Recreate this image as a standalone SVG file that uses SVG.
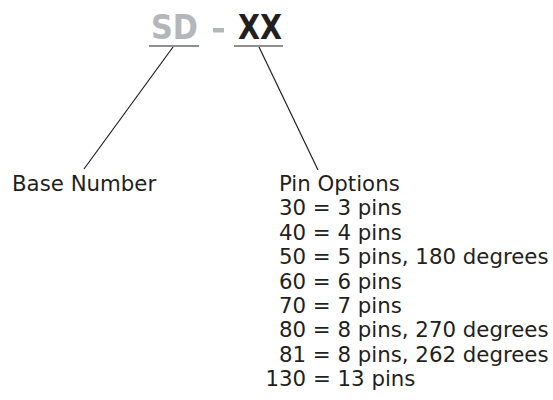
<svg xmlns="http://www.w3.org/2000/svg" width="553" height="400" viewBox="0 0 553 400">
<style>
.lbl{font-family:"DejaVu Sans","Verdana",sans-serif;font-size:21.3px;fill:#231f20}
.ttl{font-family:"DejaVu Sans Condensed","DejaVu Sans",sans-serif;font-weight:bold;font-size:34px}
.ln{stroke:#231f20;stroke-width:1.2;fill:none}
</style>
<rect width="553" height="400" fill="#ffffff"/>
<g id="title">
<text class="ttl" x="151" y="39" fill="#b5b6b9" textLength="47" lengthAdjust="spacingAndGlyphs">SD</text>
<rect x="213" y="28" width="11" height="4.5" fill="#b5b6b9"/>
<text class="ttl" x="238" y="39" fill="#231f20" textLength="44" lengthAdjust="spacingAndGlyphs">XX</text>
</g>
<g id="connectors">
<line class="ln" x1="149" y1="46" x2="199" y2="46" stroke-width="1.6"/>
<line class="ln" x1="234" y1="46" x2="283" y2="46" stroke-width="1.6"/>
<line class="ln" x1="173" y1="47" x2="84" y2="169"/>
<line class="ln" x1="259" y1="47" x2="318" y2="170"/>
</g>
<g id="base-number">
<text class="lbl" x="12" y="191">Base Number</text>
</g>
<g id="pin-options">
<text class="lbl" x="279" y="191">Pin Options</text>
<text class="lbl" x="279" y="215.4">30 = 3 pins</text>
<text class="lbl" x="279" y="239.8">40 = 4 pins</text>
<text class="lbl" x="279" y="264.2">50 = 5 pins, 180 degrees</text>
<text class="lbl" x="279" y="288.6">60 = 6 pins</text>
<text class="lbl" x="279" y="313">70 = 7 pins</text>
<text class="lbl" x="279" y="337.4">80 = 8 pins, 270 degrees</text>
<text class="lbl" x="279" y="361.8">81 = 8 pins, 262 degrees</text>
<text class="lbl" x="265.5" y="386.2">130 = 13 pins</text>
</g>
</svg>
